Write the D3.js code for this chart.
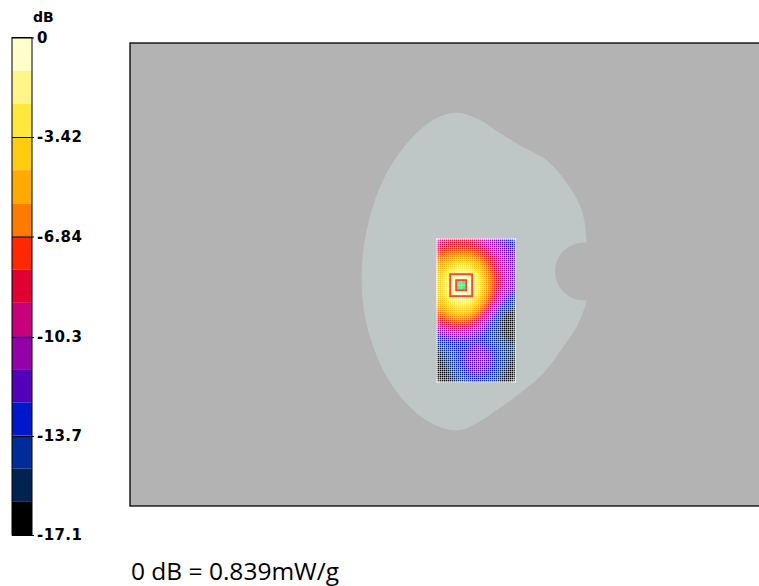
<!DOCTYPE html>
<html><head><meta charset="utf-8">
<script src="https://cdn.jsdelivr.net/npm/d3@7"></script>
<style>html,body{margin:0;padding:0;background:#fff;overflow:hidden}</style>
</head><body><svg id="c" width="759" height="586"></svg>
<script>
// ---------- data ----------
const dbTickValues = [0, -3.42, -6.84, -10.3, -13.7, -17.1];
const dbTickLabels = ["0", "-3.42", "-6.84", "-10.3", "-13.7", "-17.1"];
const bandColors = ["#FFFFCC", "#FFF589", "#FFE83C", "#FFCC10", "#FFAA00", "#FF7B00", "#FF2800",
  "#E00032", "#C8007A", "#9300A8", "#5200BA", "#0017CC", "#002C99", "#00234F", "#000000"];
const phantomOutline = [[326.7,69.7],[350,77],[370,90],[391,103],[417,117.5],[436.7,140],[451.7,167],
  [456.7,200],[456.7,257],[455,263.7],[446.7,283.7],[433.3,303.7],[413.3,330.3],[390,350.3],[366.7,367],
  [346.7,380.3],[330,387],[316.7,386.3],[293.3,375.3],[273.3,357],[256.7,333.7],[243.3,303.7],[235,273.7],
  [231.7,240],[233.3,207],[240,173.7],[251.7,140],[266.7,113.7],[286.7,90],[306.7,75]];
const notchCenter = [454, 228.5];
const notchRadius = 29;
const scanArea = [306, 195, 386, 340];
const scanCols = 10, scanRows = 18;
const scanValues = [
  [-9.5,-9.0,-8.8,-8.8,-9.0,-9.5,-10.5,-11.5,-12.5,-13.0],
  [-8.0,-7.5,-7.2,-7.2,-7.5,-8.2,-9.2,-10.5,-11.8,-12.5],
  [-6.5,-5.8,-5.2,-5.0,-5.5,-6.5,-8.0,-9.5,-11.0,-12.2],
  [-5.2,-4.0,-3.2,-3.0,-3.5,-5.0,-7.0,-8.8,-10.5,-12.0],
  [-4.2,-2.6,-1.5,-1.2,-2.0,-3.8,-6.2,-8.3,-10.2,-11.8],
  [-3.8,-2.0,-0.6,-0.2,-1.2,-3.2,-5.8,-8.0,-10.0,-11.8],
  [-3.9,-2.1,-0.7,-0.4,-1.4,-3.4,-6.0,-8.3,-10.5,-12.3],
  [-4.5,-2.8,-1.6,-1.4,-2.4,-4.3,-6.8,-9.3,-11.8,-13.5],
  [-5.5,-4.0,-3.0,-2.9,-3.8,-5.7,-8.2,-11.0,-14.0,-15.5],
  [-7.0,-5.8,-5.0,-5.0,-5.8,-7.5,-10.0,-13.0,-16.0,-16.8],
  [-8.8,-8.0,-7.5,-7.6,-8.3,-9.8,-12.0,-14.5,-16.5,-17.0],
  [-11.0,-10.3,-10.0,-10.2,-10.8,-11.8,-13.2,-15.0,-16.5,-16.8],
  [-13.5,-12.8,-12.5,-12.5,-12.6,-13.0,-13.8,-15.0,-16.0,-16.3],
  [-15.0,-14.2,-13.5,-13.0,-12.5,-12.3,-13.0,-14.0,-15.2,-15.8],
  [-16.0,-15.0,-13.8,-12.8,-11.8,-11.3,-12.0,-13.3,-15.0,-16.0],
  [-16.5,-15.5,-14.0,-12.8,-11.7,-11.3,-12.0,-13.5,-15.3,-16.3],
  [-16.8,-16.0,-14.5,-13.3,-12.3,-12.0,-12.8,-14.0,-15.8,-16.6],
  [-17.0,-16.5,-15.3,-14.2,-13.5,-13.3,-13.8,-14.8,-16.3,-16.9]
];
const peakLocation = [331.2, 242.2];
const referenceText = "0 dB = 0.839mW/g";
const unitLabel = "dB";

// ---------- drawing ----------
const svg = d3.select("#c");
const defs = svg.append("defs");
const x = d3.scaleLinear().domain([0, 630]).range([130, 760]);
const y = d3.scaleLinear().domain([0, 463]).range([43, 506]);

// plot frame
svg.append("rect").attr("x", x(0)).attr("y", y(0)).attr("width", x(633) - x(0)).attr("height", y(463) - y(0))
  .attr("fill", "#B3B3B3").attr("stroke", "#000").attr("stroke-width", 1.3);

// phantom
svg.append("path")
  .attr("d", d3.line().x(d => x(d[0])).y(d => y(d[1])).curve(d3.curveCatmullRomClosed.alpha(0.5))(phantomOutline))
  .attr("fill", "#BEC7C5");
svg.append("circle").attr("cx", x(notchCenter[0])).attr("cy", y(notchCenter[1]))
  .attr("r", x(notchRadius) - x(0)).attr("fill", "#B3B3B3");

// scan heatmap
const colorOf = d3.scaleQuantize().domain([-17.1, 0]).range(bandColors.slice().reverse());
const step = 17.1 / bandColors.length;
const thresholds = bandColors.map((c, i) => -17.1 + i * step);
const gx = d3.scaleLinear().domain([0, scanCols]).range([x(scanArea[0]), x(scanArea[2])]);
const gy = d3.scaleLinear().domain([0, scanRows]).range([y(scanArea[1]), y(scanArea[3])]);
const contours = d3.contours().size([scanCols, scanRows]).smooth(true).thresholds(thresholds)(scanValues.flat());
const proj = d3.geoTransform({ point(px, py) { this.stream.point(gx(px), gy(py)); } });
const gp = d3.geoPath(proj);

const sx0 = x(scanArea[0]), sy0 = y(scanArea[1]), sw = x(scanArea[2]) - sx0, sh = y(scanArea[3]) - sy0;
defs.append("clipPath").attr("id", "scanClip").append("rect").attr("x", sx0).attr("y", sy0).attr("width", sw).attr("height", sh);
const f = defs.append("filter").attr("id", "soft").attr("filterUnits", "userSpaceOnUse")
  .attr("x", sx0).attr("y", sy0).attr("width", sw).attr("height", sh);
f.append("feGaussianBlur").attr("stdDeviation", 2).attr("edgeMode", "duplicate");

const pat = defs.append("pattern").attr("id", "mesh").attr("patternUnits", "userSpaceOnUse")
  .attr("x", sx0).attr("y", sy0).attr("width", 2).attr("height", 2);
pat.append("rect").attr("x", 1).attr("y", 0).attr("width", 1).attr("height", 2).attr("fill", "#fff").attr("fill-opacity", 0.5);
pat.append("rect").attr("x", 0).attr("y", 1).attr("width", 2).attr("height", 1).attr("fill", "#fff").attr("fill-opacity", 0.5);

const scanG = svg.append("g").attr("clip-path", "url(#scanClip)");
const heat = scanG.append("g").attr("filter", "url(#soft)");
heat.selectAll("path").data(contours).join("path")
  .attr("d", gp).attr("fill", d => colorOf(d.value + step / 2));
scanG.append("rect").attr("x", sx0).attr("y", sy0).attr("width", sw).attr("height", sh).attr("fill", "url(#mesh)");
svg.append("rect").attr("x", sx0 + 0.5).attr("y", sy0 + 0.5).attr("width", sw - 1).attr("height", sh - 1)
  .attr("fill", "none").attr("stroke", "#fff").attr("stroke-opacity", 0.6);

// peak markers
const px = x(peakLocation[0]), py = y(peakLocation[1]);
svg.append("rect").attr("x", px - 4).attr("y", py - 4).attr("width", 8).attr("height", 8).attr("fill", "#5EEB7A");
svg.append("line").attr("x1", px).attr("x2", px).attr("y1", py - 4).attr("y2", py + 4).attr("stroke", "#fff").attr("stroke-opacity", 0.5);
svg.append("line").attr("x1", px - 4).attr("x2", px + 4).attr("y1", py).attr("y2", py).attr("stroke", "#fff").attr("stroke-opacity", 0.5);
svg.append("rect").attr("x", px - 5).attr("y", py - 5).attr("width", 10).attr("height", 10)
  .attr("fill", "none").attr("stroke", "#F04848").attr("stroke-width", 2);
svg.append("rect").attr("x", px - 11).attr("y", py - 11).attr("width", 22).attr("height", 22)
  .attr("fill", "none").attr("stroke", "#F04848").attr("stroke-width", 2);

// legend
const ly = d3.scaleLinear().domain([0, -17.1]).range([37.5, 535]);
const lg = svg.append("g");
lg.selectAll("rect.band").data(bandColors).join("rect").attr("class", "band")
  .attr("x", 12).attr("width", 20)
  .attr("y", (c, i) => ly(-i * step)).attr("height", (c, i) => ly(-(i + 1) * step) - ly(-i * step))
  .attr("fill", c => c);
lg.append("rect").attr("x", 12).attr("y", ly(0)).attr("width", 20).attr("height", ly(-17.1) - ly(0))
  .attr("fill", "none").attr("stroke", "#000").attr("stroke-width", 1);
const axis = d3.axisRight(ly).tickValues(dbTickValues).tickSize(22).tickPadding(3)
  .tickFormat((d, i) => dbTickLabels[i]);
const ag = lg.append("g").attr("transform", "translate(12,0)").call(axis);
ag.select(".domain").remove();
ag.selectAll(".tick line").attr("stroke", "#000");
ag.selectAll(".tick text").attr("font-family", "DejaVu Sans").attr("font-weight", "bold").attr("font-size", 15)
  .attr("letter-spacing", 0.4).attr("fill", "#000");
lg.append("text").attr("x", 33).attr("y", 22).text(unitLabel)
  .attr("font-family", "DejaVu Sans").attr("font-weight", "bold").attr("font-size", 14);

// reference
svg.append("text").attr("x", 131).attr("y", 580).text(referenceText)
  .attr("font-family", "Open Sans").attr("font-size", 24.5).attr("fill", "#000");
</script></body></html>
